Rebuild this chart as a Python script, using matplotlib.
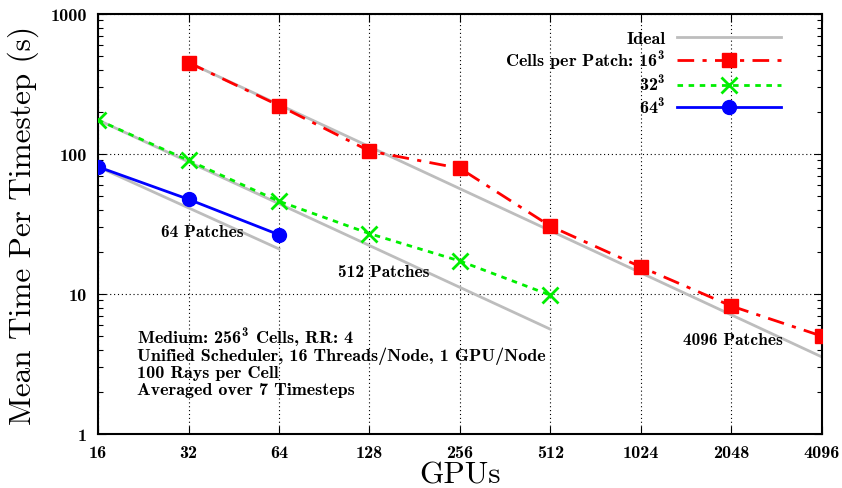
import matplotlib
matplotlib.use("Agg")
import matplotlib.pyplot as plt
from matplotlib.ticker import FixedLocator, NullFormatter, LogLocator

plt.rcParams["font.family"] = ["cmb10", "DejaVu Serif"]
plt.rcParams["mathtext.fontset"] = "custom"
plt.rcParams["mathtext.rm"] = "cmb10"
plt.rcParams["mathtext.it"] = "cmb10"
plt.rcParams["mathtext.bf"] = "cmb10"
plt.rcParams["axes.unicode_minus"] = False

# data
gpus = [16, 32, 64, 128, 256, 512, 1024, 2048, 4096]
gpus_16 = [32, 64, 128, 256, 512, 1024, 2048, 4096]
time_16 = [450, 222, 105, 79, 30.5, 15.6, 8.2, 5.0]
gpus_32 = [16, 32, 64, 128, 256, 512]
time_32 = [175, 90, 46, 27, 17.2, 9.8]
gpus_64 = [16, 32, 64]
time_64 = [81, 47.5, 26.5]

ideal_16_x = [32, 4096]
ideal_16_y = [450, 3.55]
ideal_32_x = [16, 512]
ideal_32_y = [175, 5.6]
ideal_64_x = [16, 64]
ideal_64_y = [81, 21]

info_lines = ["Medium: 256$^3$ Cells, RR: 4",
              "Unified Scheduler, 16 Threads/Node, 1 GPU/Node",
              "100 Rays per Cell",
              "Averaged over 7 Timesteps"]

fig = plt.figure(figsize=(8.42, 4.89), dpi=100)
ax = fig.add_axes([0.1164, 0.1104, 0.8598, 0.8589])
ax.set_xscale("log", base=2)
ax.set_yscale("log")

ideal_kw = dict(color="#bdbdbd", lw=2, zorder=2)
ax.plot(ideal_16_x, ideal_16_y, label="Ideal", **ideal_kw)
ax.plot(ideal_32_x, ideal_32_y, **ideal_kw)
ax.plot(ideal_64_x, ideal_64_y, **ideal_kw)

ax.plot(gpus_16, time_16, color="#ff0000", lw=2, ls=(0, (6, 3, 1.5, 3)),
        marker="s", ms=10, label="Cells per Patch: 16$^3$", zorder=3)
ax.plot(gpus_32, time_32, color="#00ee00", lw=2, ls=(0, (2, 2)),
        marker="x", ms=11, mew=2, label="32$^3$", zorder=3)
ax.plot(gpus_64, time_64, color="#0000ff", lw=2, ls="-",
        marker="o", ms=10, label="64$^3$", zorder=3)

ax.set_xlim(16, 4096)
ax.set_ylim(1, 1000)
ax.xaxis.set_major_locator(FixedLocator(gpus))
ax.set_xticklabels([str(g) for g in gpus])
ax.xaxis.set_minor_locator(FixedLocator([]))
ax.yaxis.set_major_locator(FixedLocator([1, 10, 100, 1000]))
ax.set_yticklabels(["1", "10", "100", "1000"])
ax.yaxis.set_minor_locator(LogLocator(base=10, subs=range(2, 10)))
ax.yaxis.set_minor_formatter(NullFormatter())

ax.tick_params(axis="both", which="major", direction="in", length=6, width=0.8,
               top=True, right=True, labelsize=13, pad=8)
ax.tick_params(axis="y", which="minor", direction="in", length=3.5, width=0.8,
               right=True, left=True)
for s in ax.spines.values():
    s.set_linewidth(1.5)

ax.grid(True, which="major", ls=(0, (1, 2.5)), color="black", lw=0.8)

ax.set_xlabel("GPUs", fontsize=22.5, family=["cmr10", "DejaVu Serif"], labelpad=0)
ax.set_ylabel("Mean Time Per Timestep (s)", fontsize=22.5,
              family=["cmr10", "DejaVu Serif"], labelpad=8)

ax.annotate("64 Patches", xy=(0.087, 0.481), xycoords="axes fraction",
            fontsize=12.5, ha="left", va="center")
ax.annotate("512 Patches", xy=(0.331, 0.386), xycoords="axes fraction",
            fontsize=12.5, ha="left", va="center")
ax.annotate("4096 Patches", xy=(0.808, 0.226), xycoords="axes fraction",
            fontsize=12.5, ha="left", va="center")

for i, line in enumerate(info_lines):
    ax.annotate(line, xy=(0.054, 0.216 - 0.04 * i), xycoords="axes fraction",
                fontsize=13, ha="left", va="baseline")

leg = ax.legend(loc="upper right", bbox_to_anchor=(0.954, 0.978), frameon=False,
                markerfirst=False, fontsize=13, handlelength=5.8,
                handletextpad=0.6, labelspacing=0.12, borderaxespad=0)
for t in leg.get_texts():
    t.set_ha("right")
leg._legend_box.align = "right"

fig.savefig("out.png", dpi=100)
